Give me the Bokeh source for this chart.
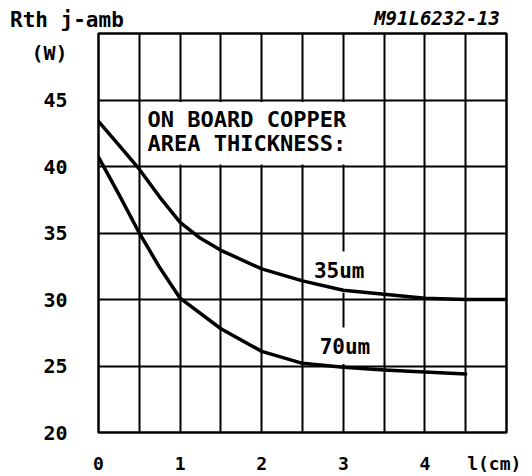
from bokeh.plotting import figure
from bokeh.layouts import column
from bokeh.models import Range1d, FixedTicker, Div
from bokeh.core.properties import value
from bokeh.embed import file_html
from bokeh.resources import INLINE

# ---- data ----
x_35um = [0, 0.25, 0.5, 0.75, 1, 1.25, 1.5, 2, 2.5, 3, 3.5, 4, 4.5, 5]
rth_35um = [43.4, 41.6, 39.8, 37.7, 35.8, 34.6, 33.7, 32.3, 31.4, 30.7, 30.4, 30.1, 30.0, 30.0]

x_70um = [0, 0.25, 0.5, 0.75, 1, 1.5, 2, 2.5, 3, 3.5, 4, 4.5]
rth_70um = [40.7, 37.9, 35.0, 32.4, 30.1, 27.8, 26.1, 25.2, 24.9, 24.7, 24.55, 24.4]

x_ticks = [0, 1, 2, 3, 4, 4.85]
x_tick_labels = ["0", "1", "2", "3", "4", "l(cm)"]
y_ticks = [20, 25, 30, 35, 40, 45, 48.5]
y_tick_labels = ["20", "25", "30", "35", "40", "45", "(W)"]
x_grid = [0.5, 1, 1.5, 2, 2.5, 3, 3.5, 4, 4.5]
y_grid = [25, 30, 35, 40, 45]

curve_labels = ["35um", "70um"]
curve_label_x = [2.95, 3.02]
curve_label_y = [32.17, 26.46]

box_lines = ["ON BOARD COPPER", "AREA THICKNESS:"]
box_line_y = [43.57, 41.7]

header_texts = ["Rth j-amb", "M91L6232-13"]

FONT = "DejaVu Sans Mono"
LEFT, RIGHT = 98, 26

# ---- header strip (texts above the chart) ----
header_html = (
    '<div style="position:relative;width:532px;height:31px;color:black;'
    "font-family:'DejaVu Sans Mono';font-weight:bold;\">"
    '<span style="position:absolute;left:10px;top:10px;font-size:21px;line-height:20px;'
    'white-space:nowrap;">%s</span>'
    '<span style="position:absolute;right:32px;top:9px;font-size:19px;line-height:19px;'
    'font-style:italic;white-space:nowrap;">%s</span></div>'
) % (header_texts[0], header_texts[1])
h = Div(text=header_html, width=532, height=31, margin=0)

# ---- main chart ----
p = figure(width=532, height=445, output_backend="svg", toolbar_location=None,
           x_range=Range1d(0, 5), y_range=Range1d(20, 50),
           min_border_left=LEFT, min_border_right=RIGHT, min_border_top=2, min_border_bottom=39)
p.background_fill_color = "white"
p.border_fill_color = "white"
p.outline_line_color = "black"
p.outline_line_width = 2.5

p.xgrid.ticker = FixedTicker(ticks=x_grid)
p.ygrid.ticker = FixedTicker(ticks=y_grid)
for g in (p.xgrid, p.ygrid):
    g.grid_line_color = "black"
    g.grid_line_width = 2
    g.grid_line_alpha = 1

p.xaxis.ticker = FixedTicker(ticks=x_ticks)
p.xaxis.major_label_overrides = {t: s for t, s in zip(x_ticks, x_tick_labels)}
p.yaxis.ticker = FixedTicker(ticks=y_ticks)
p.yaxis.major_label_overrides = {t: s for t, s in zip(y_ticks, y_tick_labels)}
for ax in (p.xaxis, p.yaxis):
    ax.axis_line_color = None
    ax.major_tick_line_color = None
    ax.minor_tick_line_color = None
    ax.major_label_text_font = FONT
    ax.major_label_text_font_style = "bold"
    ax.major_label_text_color = "black"
p.xaxis.major_label_text_font_size = "18px"
p.xaxis.major_label_standoff = 14
p.yaxis.major_label_text_font_size = "20px"
p.yaxis.major_label_standoff = 25

# white boxes hiding the grid behind the texts
p.quad(left=[0.53], right=[3.45], bottom=[40.15], top=[44.85],
       fill_color="white", line_color=None)
p.quad(left=[2.6, 2.6], right=[3.4, 3.4], bottom=[30.5, 25.15], top=[33.6, 27.9],
       fill_color="white", line_color=None)

# curves
p.line(x_35um, rth_35um, line_color="black", line_width=3.5, line_join="round", line_cap="round")
p.line(x_70um, rth_70um, line_color="black", line_width=3.5, line_join="round", line_cap="round")

# texts inside the chart
p.text(x=[0.6, 0.6], y=box_line_y, text=box_lines,
       text_font=value(FONT), text_font_style="bold", text_font_size="22px",
       text_align="left", text_baseline="middle", text_color="black")
p.text(x=curve_label_x, y=curve_label_y, text=curve_labels,
       text_font=value(FONT), text_font_style="bold", text_font_size="21px",
       text_align="center", text_baseline="middle", text_color="black")

layout = column(h, p, spacing=0)
open("out.html", "w").write(file_html(layout, INLINE))
